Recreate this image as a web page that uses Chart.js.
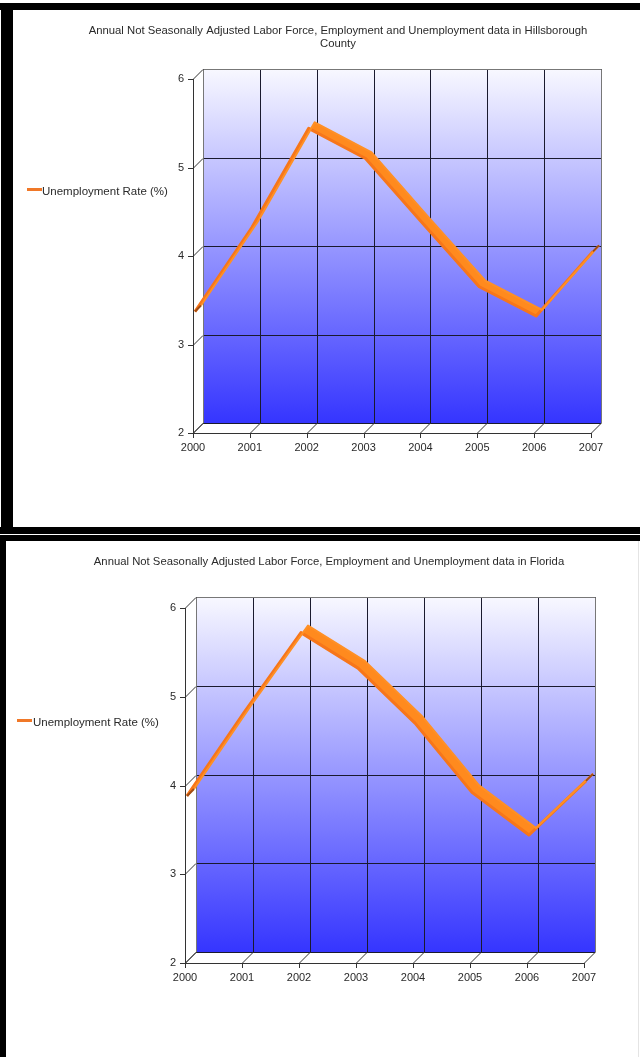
<!DOCTYPE html>
<html>
<head>
<meta charset="utf-8">
<script src="https://cdn.jsdelivr.net/npm/chart.js@4.4.1/dist/chart.umd.min.js"></script>
<style>
  body { margin: 0; width: 640px; height: 1057px; overflow: hidden; background: #fff; position: relative;
         font-family: "Liberation Sans", Arial, sans-serif; }
  .wrap { position: absolute; left: 0; width: 640px; overflow: hidden; }
  .wrap canvas { position: absolute; left: 0; top: 0; }
  .bar { position: absolute; background: #000; z-index: 5; }
  .legend { position: absolute; font-size: 11.5px; line-height: 13px; color: #2a2a2a; white-space: nowrap; z-index: 4; }
  .legend i { position: absolute; width: 15px; height: 3px; background: #f07828; }
</style>
</head>
<body>
<div class="wrap" style="top:0;height:527px"><canvas id="chart1" width="676" height="527"></canvas></div>
<div class="wrap" style="top:535px;height:522px"><canvas id="chart2" width="658" height="522"></canvas></div>

<div class="bar" style="left:0;top:3px;width:640px;height:7px"></div>
<div class="bar" style="left:1px;top:3px;width:12px;height:531px"></div>
<div class="bar" style="left:0;top:527px;width:640px;height:7px"></div>
<div class="bar" style="left:0;top:535px;width:640px;height:6px"></div>
<div class="bar" style="left:0;top:535px;width:6px;height:522px"></div>
<div style="position:absolute;left:638px;top:541px;width:1px;height:516px;background:#e4e4e4"></div>

<div class="legend" id="legend1" style="left:42px;top:185px"></div>
<div class="legend" id="legend2" style="left:33px;top:716px"></div>

<script>
// Data
const years = ['2000', '2001', '2002', '2003', '2004', '2005', '2006', '2007'];
const hillsboroughRate = [3.35, 4.3, 5.42, 5.08, 4.35, 3.63, 3.3, 4.03];
const floridaRate = [3.86, 4.8, 5.7, 5.3, 4.68, 3.9, 3.42, 4.03];
const yTicks = [2, 3, 4, 5, 6];
const seriesName = 'Unemployment Rate (%)';

const FONT = '"Liberation Sans", Arial, sans-serif';

// fake 3D: back wall, side wall, floor and a ribbon for the line
const wall3d = {
    id: 'wall3d',
    beforeDatasetsDraw(chart, args, opts) {
        const { ctx, chartArea: a, scales: { x, y } } = chart;
        const d = opts.depth;
        ctx.save();
        const g = ctx.createLinearGradient(0, a.top - d, 0, a.bottom - d);
        g.addColorStop(0, '#f8f8ff');
        g.addColorStop(1, '#3535ff');
        ctx.fillStyle = g;
        ctx.fillRect(a.left + d, a.top - d, a.right - a.left, a.bottom - a.top);

        ctx.lineWidth = 1;
        ctx.strokeStyle = '#1a1a2e';
        ctx.beginPath();
        yTicks.forEach(v => {
            const py = Math.round(y.getPixelForValue(v) - d) + 0.5;
            ctx.moveTo(a.left + d, py);
            ctx.lineTo(a.right + d, py);
        });
        years.forEach((t, i) => {
            const px = Math.round(x.getPixelForValue(i) + d) + 0.5;
            ctx.moveTo(px, a.top - d);
            ctx.lineTo(px, a.bottom - d);
        });
        ctx.stroke();

        // outer edges of back wall in grey
        ctx.strokeStyle = '#777';
        ctx.beginPath();
        const l = Math.round(a.left + d) + 0.5, r = Math.round(a.right + d) + 0.5, t = Math.round(a.top - d) + 0.5;
        ctx.moveTo(l, Math.round(a.bottom - d));
        ctx.lineTo(l, t);
        ctx.lineTo(r, t);
        ctx.lineTo(r, Math.round(a.bottom - d));
        ctx.stroke();

        // front axes, ticks and depth diagonals
        ctx.strokeStyle = '#333';
        ctx.beginPath();
        yTicks.forEach(v => {
            const py = Math.round(y.getPixelForValue(v)) + 0.5;
            ctx.moveTo(a.left - 5, py);
            ctx.lineTo(a.left, py);
            ctx.lineTo(a.left + d, py - d);
        });
        years.forEach((t, i) => {
            const px = Math.round(x.getPixelForValue(i)) + 0.5;
            ctx.moveTo(px, a.bottom + 5);
            ctx.lineTo(px, a.bottom);
            ctx.lineTo(px + d, a.bottom - d);
        });
        const fl = Math.round(a.left) + 0.5, fb = Math.round(a.bottom) + 0.5;
        ctx.moveTo(fl, a.top);
        ctx.lineTo(fl, fb);
        ctx.lineTo(a.right, fb);
        ctx.stroke();
        ctx.restore();
    },
    afterDatasetsDraw(chart, args, opts) {
        const ctx = chart.ctx;
        const pts = chart.getDatasetMeta(0).data;
        const n = opts.near, f = opts.far;
        ctx.save();
        ctx.fillStyle = '#ff8a1e';
        ctx.beginPath();
        for (let i = 0; i < pts.length - 1; i++) {
            const p = pts[i], q = pts[i + 1];
            ctx.moveTo(p.x + n, p.y - n);
            ctx.lineTo(q.x + n, q.y - n);
            ctx.lineTo(q.x + f, q.y - f);
            ctx.lineTo(p.x + f, p.y - f);
            ctx.closePath();
        }
        ctx.fill();
        ctx.lineJoin = 'round';
        ctx.lineWidth = 3;
        ctx.strokeStyle = '#f7761a';
        ctx.beginPath();
        pts.forEach((p, i) => i ? ctx.lineTo(p.x + n, p.y - n) : ctx.moveTo(p.x + n, p.y - n));
        ctx.stroke();
        ctx.strokeStyle = '#ff9025';
        ctx.lineWidth = 2;
        ctx.beginPath();
        pts.forEach((p, i) => i ? ctx.lineTo(p.x + f, p.y - f) : ctx.moveTo(p.x + f, p.y - f));
        ctx.stroke();
        // end caps
        ctx.strokeStyle = '#a04c14';
        ctx.lineWidth = 2;
        [pts[0], pts[pts.length - 1]].forEach(p => {
            ctx.beginPath();
            ctx.moveTo(p.x + n, p.y - n);
            ctx.lineTo(p.x + f, p.y - f);
            ctx.stroke();
        });
        ctx.restore();
    }
};

function createChart(id, title, values, s) {
    new Chart(document.getElementById(id), {
        type: 'line',
        data: {
            labels: years,
            datasets: [{
                label: seriesName,
                data: values,
                showLine: false,
                pointRadius: 0,
                borderColor: '#f07828'
            }]
        },
        options: {
            responsive: false,
            animation: false,
            layout: { padding: { top: 0, left: 0, right: 0, bottom: s.padBottom } },
            plugins: {
                legend: { display: false },
                tooltip: { enabled: false },
                title: {
                    display: true,
                    text: title,
                    color: '#2a2a2a',
                    font: { family: FONT, size: 11.3, weight: 'normal', lineHeight: 1.17 },
                    padding: { top: s.titleTop, bottom: s.titleBottom }
                },
                wall3d: { depth: s.depth, near: 2, far: s.depth - 2 }
            },
            scales: {
                x: {
                    offset: false,
                    grid: { display: false, drawTicks: false },
                    border: { display: false },
                    ticks: { color: '#2a2a2a', font: { family: FONT, size: 11 }, padding: 8, maxRotation: 0, autoSkip: false },
                    afterFit: sc => { sc.height = 40; }
                },
                y: {
                    min: 2,
                    max: 6,
                    grid: { display: false, drawTicks: false },
                    border: { display: false },
                    ticks: { stepSize: 1, color: '#2a2a2a', font: { family: FONT, size: 11 }, padding: 9 },
                    afterFit: sc => { sc.width = s.left; }
                },
                y2: {
                    position: 'right',
                    grid: { display: false, drawTicks: false },
                    border: { display: false },
                    ticks: { display: false },
                    afterFit: sc => { sc.width = s.right; }
                }
            }
        },
        plugins: [wall3d]
    });
}

createChart('chart1',
    ['Annual Not Seasonally Adjusted Labor Force, Employment and Unemployment data in Hillsborough', 'County'],
    hillsboroughRate,
    { padBottom: 54, titleTop: 24, titleBottom: 28.6, left: 193, right: 85, depth: 10 });

createChart('chart2',
    'Annual Not Seasonally Adjusted Labor Force, Employment and Unemployment data in Florida',
    floridaRate,
    { padBottom: 54, titleTop: 20, titleBottom: 39.8, left: 185, right: 74, depth: 11 });

// HTML legends
[['legend1', 27], ['legend2', 17]].forEach(([id, mx]) => {
    const el = document.getElementById(id);
    const left = parseFloat(el.style.left);
    el.innerHTML = '<i style="left:' + (mx - left) + 'px;top:3px"></i>' + seriesName;
});
</script>
</body>
</html>
